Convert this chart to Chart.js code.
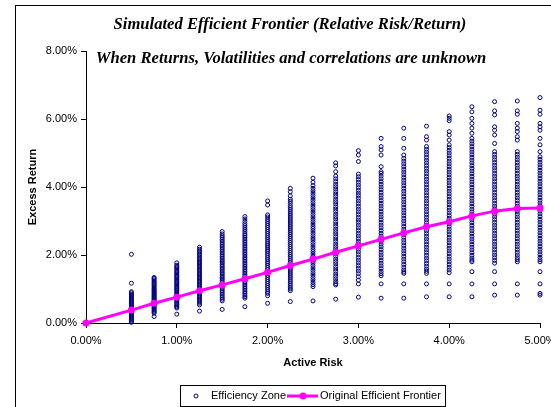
<!DOCTYPE html>
<html>
<head>
<meta charset="utf-8">
<title>Simulated Efficient Frontier</title>
<script src="https://cdn.jsdelivr.net/npm/chart.js@4.4.0/dist/chart.umd.min.js"></script>
<style>
  html, body { margin: 0; padding: 0; background: #fff; }
</style>
</head>
<body>
<canvas id="frontier" width="551" height="407"></canvas>
<script>
// active risk levels (%) that were simulated
const riskLevels = [0.5, 0.75, 1.0, 1.25, 1.5, 1.75, 2.0, 2.25, 2.5, 2.75,
                    3.0, 3.25, 3.5, 3.75, 4.0, 4.25, 4.5, 4.75, 5.0];

// original frontier, starts at the origin
const frontierRisk = [0, 0.5, 0.75, 1.0, 1.25, 1.5, 1.75, 2.0, 2.25, 2.5, 2.75,
                      3.0, 3.25, 3.5, 3.75, 4.0, 4.25, 4.5, 4.75, 5.0];
const frontierReturn = [0, 0.38, 0.58, 0.76, 0.95, 1.12, 1.30, 1.49, 1.69, 1.88, 2.08,
                        2.27, 2.46, 2.65, 2.83, 2.98, 3.15, 3.29, 3.37, 3.38];

// simulated excess returns (%) at each risk level
const zone050 = [2.02, 1.17, 0.92, 0.89, 0.85, 0.82, 0.79, 0.76, 0.73, 0.70, 0.67, 0.64, 0.61, 0.58, 0.55, 0.53, 0.50, 0.47, 0.44, 0.41, 0.38, 0.35, 0.32, 0.29, 0.26, 0.23, 0.20, 0.17, 0.14, 0.11, 0.08, 0.05, 0.02];
const zone075 = [1.34, 1.31, 1.27, 1.23, 1.20, 1.16, 1.13, 1.09, 1.06, 1.02, 0.99, 0.96, 0.93, 0.90, 0.87, 0.84, 0.81, 0.78, 0.75, 0.72, 0.69, 0.66, 0.63, 0.60, 0.57, 0.54, 0.51, 0.48, 0.45, 0.42, 0.38, 0.35, 0.32, 0.29, 0.19];
const zone100 = [1.77, 1.70, 1.66, 1.63, 1.59, 1.55, 1.51, 1.48, 1.44, 1.40, 1.37, 1.33, 1.29, 1.26, 1.22, 1.19, 1.15, 1.12, 1.08, 1.05, 1.01, 0.98, 0.95, 0.91, 0.88, 0.84, 0.81, 0.77, 0.74, 0.70, 0.66, 0.62, 0.58, 0.54, 0.50, 0.47, 0.44, 0.26];
const zone125 = [2.23, 2.17, 2.12, 2.08, 2.03, 1.99, 1.94, 1.90, 1.86, 1.82, 1.78, 1.74, 1.70, 1.66, 1.62, 1.58, 1.54, 1.50, 1.46, 1.42, 1.38, 1.34, 1.30, 1.26, 1.22, 1.18, 1.14, 1.10, 1.06, 1.02, 0.98, 0.94, 0.90, 0.86, 0.82, 0.78, 0.74, 0.70, 0.66, 0.62, 0.58, 0.53, 0.35];
const zone150 = [2.69, 2.62, 2.56, 2.51, 2.46, 2.41, 2.36, 2.31, 2.26, 2.21, 2.16, 2.11, 2.06, 2.01, 1.96, 1.91, 1.86, 1.81, 1.77, 1.72, 1.67, 1.62, 1.58, 1.53, 1.48, 1.44, 1.39, 1.34, 1.30, 1.25, 1.20, 1.15, 1.10, 1.05, 1.00, 0.95, 0.90, 0.85, 0.80, 0.75, 0.70, 0.65, 0.40];
const zone175 = [3.13, 3.06, 2.99, 2.92, 2.86, 2.80, 2.74, 2.68, 2.62, 2.57, 2.52, 2.47, 2.42, 2.37, 2.32, 2.27, 2.22, 2.17, 2.12, 2.07, 2.02, 1.97, 1.92, 1.87, 1.82, 1.77, 1.72, 1.67, 1.62, 1.57, 1.52, 1.47, 1.42, 1.37, 1.32, 1.27, 1.22, 1.17, 1.12, 1.07, 1.02, 0.97, 0.92, 0.87, 0.82, 0.77, 0.73, 0.48];
const zone200 = [3.59, 3.47, 3.18, 3.12, 3.05, 2.99, 2.93, 2.87, 2.81, 2.75, 2.69, 2.63, 2.57, 2.51, 2.45, 2.39, 2.33, 2.27, 2.21, 2.15, 2.10, 2.04, 1.98, 1.92, 1.86, 1.80, 1.75, 1.69, 1.63, 1.57, 1.51, 1.45, 1.40, 1.34, 1.28, 1.22, 1.16, 1.10, 1.04, 0.98, 0.92, 0.87, 0.80, 0.58];
const zone225 = [3.96, 3.86, 3.74, 3.64, 3.58, 3.52, 3.45, 3.39, 3.33, 3.27, 3.21, 3.15, 3.09, 3.03, 2.97, 2.91, 2.85, 2.79, 2.73, 2.67, 2.61, 2.55, 2.49, 2.43, 2.37, 2.31, 2.25, 2.19, 2.13, 2.07, 2.01, 1.95, 1.89, 1.83, 1.77, 1.71, 1.65, 1.59, 1.53, 1.47, 1.41, 1.35, 1.29, 1.23, 1.17, 1.11, 1.05, 1.00, 0.95, 0.63];
const zone250 = [4.26, 4.14, 4.04, 3.96, 3.89, 3.82, 3.75, 3.68, 3.61, 3.54, 3.47, 3.40, 3.33, 3.26, 3.19, 3.12, 3.05, 2.98, 2.91, 2.84, 2.78, 2.71, 2.64, 2.57, 2.50, 2.44, 2.37, 2.30, 2.23, 2.16, 2.10, 2.03, 1.96, 1.89, 1.82, 1.76, 1.69, 1.62, 1.55, 1.48, 1.41, 1.34, 1.27, 1.20, 1.13, 1.07, 0.65];
const zone275 = [4.71, 4.62, 4.45, 4.32, 4.24, 4.16, 4.08, 4.01, 3.94, 3.86, 3.79, 3.72, 3.64, 3.57, 3.50, 3.42, 3.35, 3.28, 3.20, 3.13, 3.06, 2.98, 2.91, 2.84, 2.76, 2.69, 2.62, 2.54, 2.47, 2.40, 2.32, 2.25, 2.18, 2.10, 2.03, 1.96, 1.88, 1.81, 1.74, 1.66, 1.59, 1.52, 1.44, 1.37, 1.30, 1.22, 1.16, 1.12, 0.70];
const zone300 = [5.07, 4.94, 4.75, 4.38, 4.30, 4.22, 4.14, 4.06, 3.98, 3.90, 3.82, 3.75, 3.67, 3.59, 3.51, 3.43, 3.35, 3.27, 3.19, 3.11, 3.03, 2.96, 2.88, 2.80, 2.72, 2.64, 2.56, 2.48, 2.40, 2.33, 2.25, 2.17, 2.09, 2.01, 1.93, 1.85, 1.77, 1.69, 1.61, 1.53, 1.45, 1.36, 1.26, 1.15, 0.76];
const zone325 = [5.43, 5.19, 5.09, 4.94, 4.60, 4.45, 4.40, 4.32, 4.24, 4.16, 4.08, 4.00, 3.92, 3.84, 3.76, 3.68, 3.60, 3.52, 3.44, 3.36, 3.28, 3.20, 3.12, 3.04, 2.96, 2.88, 2.80, 2.72, 2.64, 2.56, 2.48, 2.40, 2.32, 2.24, 2.16, 2.08, 2.00, 1.92, 1.84, 1.76, 1.68, 1.60, 1.52, 1.45, 1.39, 1.15, 0.73];
const zone350 = [5.73, 5.43, 5.14, 4.94, 4.84, 4.76, 4.68, 4.60, 4.52, 4.44, 4.36, 4.28, 4.20, 4.12, 4.04, 3.96, 3.88, 3.80, 3.72, 3.64, 3.56, 3.48, 3.40, 3.32, 3.24, 3.16, 3.08, 3.00, 2.92, 2.84, 2.76, 2.68, 2.60, 2.52, 2.44, 2.36, 2.28, 2.20, 2.12, 2.04, 1.96, 1.88, 1.80, 1.72, 1.64, 1.56, 1.50, 1.46, 1.15, 0.73];
const zone375 = [5.79, 5.48, 5.38, 5.19, 5.11, 5.03, 4.95, 4.87, 4.79, 4.71, 4.63, 4.55, 4.47, 4.39, 4.31, 4.23, 4.15, 4.07, 3.99, 3.91, 3.83, 3.75, 3.67, 3.59, 3.51, 3.43, 3.35, 3.27, 3.19, 3.11, 3.03, 2.95, 2.87, 2.79, 2.71, 2.63, 2.55, 2.47, 2.39, 2.31, 2.23, 2.15, 2.07, 1.99, 1.91, 1.83, 1.75, 1.67, 1.59, 1.52, 1.46, 1.15, 0.77];
const zone400 = [6.09, 6.02, 5.95, 5.63, 5.53, 5.38, 5.24, 5.16, 5.08, 5.00, 4.92, 4.84, 4.76, 4.68, 4.60, 4.52, 4.44, 4.36, 4.28, 4.20, 4.12, 4.04, 3.96, 3.88, 3.80, 3.72, 3.64, 3.56, 3.48, 3.40, 3.32, 3.24, 3.16, 3.08, 3.00, 2.92, 2.84, 2.76, 2.68, 2.60, 2.52, 2.44, 2.36, 2.28, 2.20, 2.12, 2.04, 1.96, 1.88, 1.80, 1.72, 1.64, 1.56, 1.48, 1.15, 0.77];
const zone425 = [6.36, 6.21, 6.02, 5.87, 5.73, 5.58, 5.43, 5.35, 5.27, 5.19, 5.11, 5.03, 4.95, 4.87, 4.79, 4.71, 4.63, 4.55, 4.47, 4.39, 4.31, 4.23, 4.15, 4.07, 3.99, 3.91, 3.83, 3.75, 3.67, 3.59, 3.51, 3.43, 3.35, 3.27, 3.19, 3.11, 3.03, 2.95, 2.87, 2.79, 2.71, 2.63, 2.55, 2.47, 2.39, 2.31, 2.23, 2.15, 2.07, 1.99, 1.91, 1.85, 1.80, 1.51, 1.15, 0.77];
const zone450 = [6.51, 6.24, 6.12, 5.77, 5.67, 5.53, 5.28, 5.04, 4.96, 4.88, 4.80, 4.72, 4.64, 4.56, 4.48, 4.40, 4.32, 4.24, 4.16, 4.08, 4.00, 3.92, 3.84, 3.76, 3.68, 3.60, 3.52, 3.44, 3.36, 3.28, 3.20, 3.12, 3.04, 2.96, 2.88, 2.80, 2.72, 2.64, 2.56, 2.48, 2.40, 2.32, 2.24, 2.16, 2.08, 2.00, 1.92, 1.84, 1.76, 1.51, 1.15, 0.82];
const zone475 = [6.53, 6.24, 6.14, 5.87, 5.73, 5.63, 5.48, 5.38, 5.04, 4.96, 4.88, 4.80, 4.72, 4.64, 4.56, 4.48, 4.40, 4.32, 4.24, 4.16, 4.08, 4.00, 3.92, 3.84, 3.76, 3.68, 3.60, 3.52, 3.44, 3.36, 3.28, 3.20, 3.12, 3.04, 2.96, 2.88, 2.80, 2.72, 2.64, 2.56, 2.48, 2.40, 2.32, 2.24, 2.16, 2.08, 2.00, 1.92, 1.86, 1.80, 1.15, 0.82];
const zone500 = [6.63, 6.26, 6.14, 5.87, 5.77, 5.67, 5.43, 5.24, 5.04, 4.89, 4.81, 4.73, 4.65, 4.57, 4.49, 4.41, 4.33, 4.25, 4.17, 4.09, 4.01, 3.93, 3.85, 3.77, 3.69, 3.61, 3.53, 3.45, 3.37, 3.29, 3.21, 3.13, 3.05, 2.97, 2.89, 2.81, 2.73, 2.65, 2.57, 2.49, 2.41, 2.33, 2.25, 2.17, 2.09, 2.01, 1.93, 1.86, 1.80, 1.51, 1.15, 0.87, 0.82];

const zoneColumns = [zone050, zone075, zone100, zone125, zone150, zone175, zone200, zone225, zone250, zone275,
                     zone300, zone325, zone350, zone375, zone400, zone425, zone450, zone475, zone500];

const titleLines = ['Simulated Efficient Frontier (Relative Risk/Return)',
                    'When Returns, Volatilities and correlations are unknown'];

const zonePoints = [];
zoneColumns.forEach((col, i) => {
  col.forEach(r => zonePoints.push({ x: riskLevels[i], y: r }));
});
const frontierPoints = frontierRisk.map((x, i) => ({ x: x, y: frontierReturn[i] }));

const NAVY = '#000080';
const MAGENTA = '#FF00FF';
const SANS = '"Liberation Sans", Arial, sans-serif';
const pct = v => v.toFixed(2) + '%';

// outer frame, the two title lines and the boxed legend
const decorations = {
  id: 'decorations',
  afterDraw(chart) {
    const ctx = chart.ctx;
    ctx.save();
    ctx.strokeStyle = '#000';
    ctx.lineWidth = 1;
    ctx.strokeRect(15.5, 5.5, 600, 500);

    ctx.fillStyle = '#000';
    ctx.textAlign = 'center';
    ctx.textBaseline = 'alphabetic';
    ctx.font = 'bold italic 16.6px "Liberation Serif", "Times New Roman", serif';
    ctx.fillText(titleLines[0], 290, 29);
    ctx.fillText(titleLines[1], 291, 63);

    // legend
    ctx.strokeRect(180.5, 385.5, 265, 21);
    const ly = 396;
    ctx.beginPath();
    ctx.arc(196, ly, 2, 0, Math.PI * 2);
    ctx.strokeStyle = NAVY;
    ctx.stroke();

    ctx.beginPath();
    ctx.moveTo(287, ly);
    ctx.lineTo(318, ly);
    ctx.strokeStyle = MAGENTA;
    ctx.lineWidth = 3;
    ctx.stroke();
    ctx.beginPath();
    ctx.arc(303, ly, 3.5, 0, Math.PI * 2);
    ctx.fillStyle = MAGENTA;
    ctx.fill();

    ctx.fillStyle = '#000';
    ctx.font = '11px ' + SANS;
    ctx.textAlign = 'left';
    ctx.textBaseline = 'middle';
    ctx.fillText('Efficiency Zone', 211, ly);
    ctx.fillText('Original Efficient Frontier', 320, ly);
    ctx.restore();
  }
};

new Chart(document.getElementById('frontier'), {
  type: 'scatter',
  data: {
    datasets: [{
      label: 'Efficiency Zone',
      data: zonePoints,
      pointStyle: 'circle',
      pointRadius: 2,
      pointBorderWidth: 1,
      borderColor: NAVY,
      backgroundColor: 'rgba(255,255,255,0)',
      clip: false,
      order: 2
    }, {
      label: 'Original Efficient Frontier',
      data: frontierPoints,
      showLine: true,
      borderColor: MAGENTA,
      backgroundColor: MAGENTA,
      borderWidth: 3,
      pointRadius: 3.5,
      pointBorderWidth: 0,
      clip: false,
      order: 1
    }]
  },
  options: {
    responsive: false,
    animation: false,
    devicePixelRatio: 1,
    layout: { padding: { left: 26, top: 51, right: 11, bottom: 37 } },
    plugins: {
      legend: { display: false },
      tooltip: { enabled: false }
    },
    scales: {
      x: {
        type: 'linear',
        min: 0,
        max: 5,
        ticks: {
          stepSize: 1,
          padding: 6,
          maxRotation: 0,
          color: '#000',
          font: { family: SANS, size: 11 },
          callback: pct
        },
        grid: { drawOnChartArea: false, drawTicks: true, tickLength: 5, color: '#000' },
        border: { color: '#000', width: 1 },
        title: {
          display: true,
          text: 'Active Risk',
          color: '#000',
          padding: 0,
          font: { family: SANS, size: 11, weight: 'bold' }
        },
        afterFit(scale) {
          scale.height = 47;
          scale.paddingLeft = 0;
          scale.paddingRight = 0;
        }
      },
      y: {
        min: 0,
        max: 8,
        ticks: {
          stepSize: 2,
          padding: 4,
          color: '#000',
          font: { family: SANS, size: 11 },
          callback: pct
        },
        grid: { drawOnChartArea: false, drawTicks: true, tickLength: 5, color: '#000' },
        border: { color: '#000', width: 1 },
        title: {
          display: true,
          text: 'Excess Return',
          color: '#000',
          padding: 0,
          font: { family: SANS, size: 11, weight: 'bold' }
        },
        afterFit(scale) {
          scale.width = 60;
        }
      }
    }
  },
  plugins: [decorations]
});
</script>
</body>
</html>
